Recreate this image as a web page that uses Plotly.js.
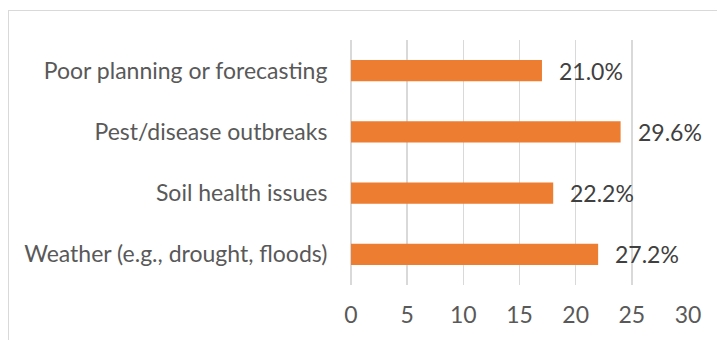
<!DOCTYPE html>
<html>
<head>
<meta charset="utf-8">
<script src="https://cdn.plot.ly/plotly-3.0.1.min.js"></script>
<style>
  html, body { margin: 0; padding: 0; background: #ffffff; }
  #wrap { position: relative; width: 717px; height: 340px; overflow: hidden; }
  #frame { position: absolute; left: 8px; top: 10px; width: 760px; height: 400px;
           border: 1.5px solid #d9d9d9; box-sizing: border-box; }
  #chart { position: absolute; left: 0; top: 0; width: 717px; height: 340px; }
</style>
</head>
<body>
<div id="wrap">
  <div id="frame"></div>
  <div id="chart"></div>
</div>
<script>
// Causes of crop loss, listed bottom to top
const causes = [
  "Weather (e.g., drought, floods)",
  "Soil health issues",
  "Pest/disease outbreaks",
  "Poor planning or forecasting"
];
// Number of responses per cause
const counts = [22, 18, 24, 17];
// Value-axis ticks
const xTicks = [0, 5, 10, 15, 20, 25, 30];

const total = counts.reduce((a, b) => a + b, 0);
const shares = counts.map(c => (c / total * 100).toFixed(1) + "%");

const FONT = "Lato, 'Open Sans', sans-serif";
const SIZE = 23;

const trace = {
  type: "bar",
  orientation: "h",
  x: counts,
  y: causes,
  marker: { color: "#ED7D31" },
  hoverinfo: "skip"
};

// Share labels placed just past the end of each bar
const labels = counts.map((c, i) => ({
  x: c, y: causes[i], xref: "x", yref: "y",
  text: shares[i], showarrow: false,
  xanchor: "left", yanchor: "middle", xshift: 15,
  font: { family: FONT, size: SIZE, color: "#404040" }
}));

const layout = {
  width: 717, height: 340,
  margin: { l: 351, r: 29, t: 40, b: 55, pad: 0 },
  paper_bgcolor: "rgba(0,0,0,0)",
  plot_bgcolor: "rgba(0,0,0,0)",
  bargap: 0.65,
  showlegend: false,
  font: { family: FONT, size: SIZE, color: "#595959" },
  xaxis: {
    range: [0, 30],
    tickvals: xTicks,
    ticktext: xTicks.map(String),
    showgrid: true, gridcolor: "#d9d9d9", gridwidth: 1.5,
    zeroline: true, zerolinecolor: "#d9d9d9", zerolinewidth: 1.5,
    showline: false,
    ticks: "outside", ticklen: 9, tickcolor: "rgba(0,0,0,0)",
    tickfont: { family: FONT, size: SIZE, color: "#595959" },
    fixedrange: true
  },
  yaxis: {
    type: "category",
    showgrid: false, zeroline: false, showline: false,
    ticks: "outside", ticklen: 18, tickcolor: "rgba(0,0,0,0)",
    tickfont: { family: FONT, size: SIZE, color: "#595959" },
    fixedrange: true
  },
  annotations: labels
};

Plotly.newPlot("chart", [trace], layout, { staticPlot: true, displayModeBar: false });
</script>
</body>
</html>
